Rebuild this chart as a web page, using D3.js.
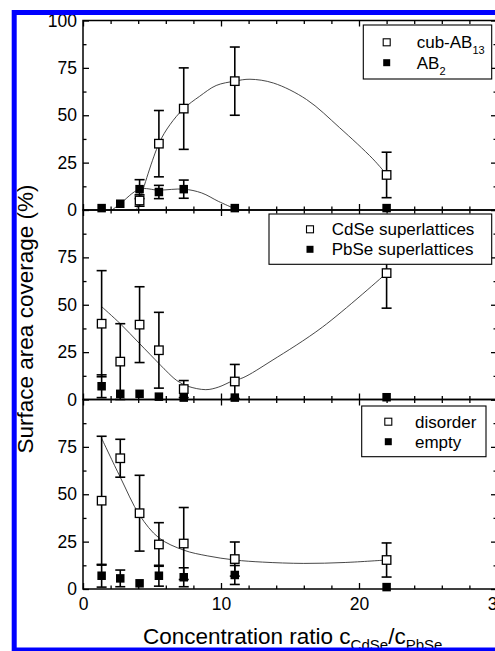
<!DOCTYPE html>
<html>
<head>
<meta charset="utf-8">
<script src="https://cdn.jsdelivr.net/npm/d3@7"></script>
<style>
  html, body { margin: 0; padding: 0; background: #fff; }
  svg { display: block; font-family: "Liberation Sans", Arial, sans-serif; }
</style>
</head>
<body>
<svg id="chart" width="495" height="651"></svg>
<script>
// ---------------- data ----------------
const xs = [1.35, 2.7, 4.1, 5.5, 7.3, 11, 22];

// top panel
const cubAB13    = [null, null, 5, 35, 53.5, 68, 18.5];
const cubAB13Err = [0, 0, 3, 17.5, 21.5, 18, 12];
const ab2        = [1, 3.3, 11, 9.5, 11, 1, 1];
const ab2Err     = [0, 0, 5, 3.5, 4.8, 0, 0];

// middle panel
const cdse       = [40, 20, 39.5, 26, 5.5, 9.5, 66.7];
const cdseErr    = [28, 20, 20, 20, 4.5, 9, 18.5];
const pbse       = [7, 3, 3, 1.5, 1, 1, 1.2];
const pbseErr    = [6, 0, 0, 0, 0, 0, 0];

// bottom panel
const disorder    = [46.6, 69, 40, 23.5, 24, 15.8, 15.3];
const disorderErr = [34, 10, 20, 11.5, 19, 9, 9];
const empty       = [7, 5.6, 3, 7, 6.2, 7.4, 1];
const emptyErr    = [6, 4.4, 0, 5.5, 5, 5, 0];

// guide-to-the-eye curves
const cubFitX = [3.9, 4.1, 5.5, 6.3, 7.3, 8.45, 9.65, 11, 12.1, 13.8, 16.2, 18.6, 21, 22];
const cubFitY = [0.5, 5, 35, 45, 53.5, 60, 65.7, 68, 69, 67, 58.3, 43.4, 27, 18.7];
const ab2FitX = [2.1, 2.7, 4.1, 5.5, 7.3, 8.6, 9.8, 10.9];
const ab2FitY = [0, 3.3, 11, 10.5, 11, 9, 4.6, 1];
const cdseFitX = [1.35, 2.7, 4.1, 5.5, 6.0, 6.8, 7.6, 8.9, 9.8, 10.9, 11.6, 13.7, 17.35, 22];
const cdseFitY = [49, 40, 29.5, 19, 15.3, 10, 7, 5.2, 6.5, 10, 11.5, 20.6, 38.2, 66.7];
const disFitX = [1.35, 2.7, 4.1, 5.5, 7.3, 9, 11, 13, 16, 19, 22];
const disFitY = [79.5, 59, 39, 27, 20.5, 17.5, 15.3, 14.2, 13.5, 14, 15.3];

const xMajor = [0, 10, 20, 30];
const xMinor = [2, 4, 6, 8, 12, 14, 16, 18, 22, 24, 26, 28];
const yMajorTop = [0, 25, 50, 75, 100];
const yMajor = [0, 25, 50, 75];
const yMinor = [12.5, 37.5, 62.5, 87.5];

const panels = [
  { top: 20.5, bottom: 210, yTicks: yMajorTop,
    open: cubAB13, openErr: cubAB13Err, filled: ab2, filledErr: ab2Err,
    fits: [[cubFitX, cubFitY], [ab2FitX, ab2FitY]],
    legend: { x0: 363.3, y0: 25, x1: 491.7, y1: 79, mx: 386.7, tx: 416.7, r1: 42.3, r2: 62.7,
              l1: ["cub-AB", "13"], l2: ["AB", "2"] } },
  { top: 210, bottom: 399.5, yTicks: yMajor,
    open: cdse, openErr: cdseErr, filled: pbse, filledErr: pbseErr,
    fits: [[cdseFitX, cdseFitY]],
    legend: { x0: 269, y0: 214, x1: 491.7, y1: 264.3, mx: 310, tx: 331.7, r1: 229.3, r2: 249.3,
              l1: ["CdSe superlattices", ""], l2: ["PbSe superlattices", ""] } },
  { top: 399.5, bottom: 589, yTicks: yMajor,
    open: disorder, openErr: disorderErr, filled: empty, filledErr: emptyErr,
    fits: [[disFitX, disFitY]],
    legend: { x0: 361.7, y0: 406, x1: 486, y1: 456.7, mx: 388.3, tx: 415, r1: 421.7, r2: 441.7,
              l1: ["disorder", ""], l2: ["empty", ""] } }
];

// ---------------- drawing ----------------
const svg = d3.select("#chart");
const x = d3.scaleLinear().domain([0, 30]).range([83, 497]);
const tickFont = 17.5;

panels.forEach((p, pi) => {
  const y = d3.scaleLinear().domain([0, 100]).range([p.bottom, p.top]);
  const g = svg.append("g");

  // fit curves
  p.fits.forEach(([fx, fy]) => {
    const pts = fx.map((v, i) => [v, fy[i]]);
    g.append("path")
      .attr("d", d3.line().x(d => x(d[0])).y(d => y(d[1])).curve(d3.curveCatmullRom.alpha(0.5))(pts))
      .attr("fill", "none").attr("stroke", "#333").attr("stroke-width", 0.9);
  });

  // error bars
  const drawErr = (vals, errs) => {
    xs.forEach((xv, i) => {
      const v = vals[i], e = errs[i];
      if (v == null || !e) return;
      const eb = g.append("g").attr("stroke", "#000").attr("stroke-width", 1.6);
      const lo = Math.max(0, v - e), hi = v + e;
      eb.append("line").attr("x1", x(xv)).attr("x2", x(xv)).attr("y1", y(lo)).attr("y2", y(hi));
      eb.append("line").attr("x1", x(xv) - 5).attr("x2", x(xv) + 5).attr("y1", y(hi)).attr("y2", y(hi));
      eb.append("line").attr("x1", x(xv) - 5).attr("x2", x(xv) + 5).attr("y1", y(lo)).attr("y2", y(lo));
    });
  };
  drawErr(p.open, p.openErr);
  drawErr(p.filled, p.filledErr);

  const ms = 8.5;
  xs.forEach((xv, i) => {
    const v = p.open[i];
    if (v == null) return;
    g.append("rect").attr("x", x(xv) - ms / 2).attr("y", y(v) - ms / 2)
      .attr("width", ms).attr("height", ms)
      .attr("fill", "#fff").attr("stroke", "#000").attr("stroke-width", 1.3);
  });
  xs.forEach((xv, i) => {
    const v = p.filled[i];
    if (v == null) return;
    g.append("rect").attr("x", x(xv) - ms / 2).attr("y", y(v) - ms / 2)
      .attr("width", ms).attr("height", ms).attr("fill", "#000");
  });

  // axes (ticks inward)
  const axG = svg.append("g").attr("font-size", tickFont);
  const styleAxis = sel => { sel.select(".domain").remove(); sel.selectAll("line").attr("stroke", "#000").attr("stroke-width", 1.3); sel.selectAll("text").attr("font-family", "Liberation Sans, Arial, sans-serif").attr("fill", "#000").attr("font-size", tickFont); };

  axG.append("g").attr("transform", `translate(${x(0)},0)`)
    .call(d3.axisLeft(y).tickValues(p.yTicks).tickSizeInner(-6).tickSizeOuter(0).tickPadding(6).tickFormat(d3.format("d")))
    .call(styleAxis);
  axG.append("g").attr("transform", `translate(${x(0)},0)`)
    .call(d3.axisLeft(y).tickValues(yMinor).tickSizeInner(-3.5).tickSizeOuter(0).tickFormat(""))
    .call(styleAxis);
  axG.append("g").attr("transform", `translate(${x(30)},0)`)
    .call(d3.axisRight(y).tickValues([0, 25, 50, 75, 100]).tickSizeInner(-6).tickSizeOuter(0).tickFormat(""))
    .call(styleAxis);
  axG.append("g").attr("transform", `translate(${x(30)},0)`)
    .call(d3.axisRight(y).tickValues(yMinor).tickSizeInner(-3.5).tickSizeOuter(0).tickFormat(""))
    .call(styleAxis);

  const isLast = pi === panels.length - 1;
  axG.append("g").attr("transform", `translate(0,${p.bottom})`)
    .call(d3.axisBottom(x).tickValues(xMajor).tickSizeInner(-6).tickSizeOuter(0).tickPadding(9)
      .tickFormat(isLast ? d3.format("d") : ""))
    .call(styleAxis);
  axG.append("g").attr("transform", `translate(0,${p.bottom})`)
    .call(d3.axisBottom(x).tickValues(xMinor).tickSizeInner(-3.5).tickSizeOuter(0).tickFormat(""))
    .call(styleAxis);
  axG.append("g").attr("transform", `translate(0,${p.top})`)
    .call(d3.axisTop(x).tickValues(xMajor).tickSizeInner(-6).tickSizeOuter(0).tickFormat(""))
    .call(styleAxis);
  axG.append("g").attr("transform", `translate(0,${p.top})`)
    .call(d3.axisTop(x).tickValues(xMinor).tickSizeInner(-3.5).tickSizeOuter(0).tickFormat(""))
    .call(styleAxis);

  // frame
  svg.append("rect").attr("x", x(0)).attr("y", p.top)
    .attr("width", x(30) - x(0)).attr("height", p.bottom - p.top)
    .attr("fill", "none").attr("stroke", "#000").attr("stroke-width", 1.5);

  // legend
  const L = p.legend;
  const lg = svg.append("g");
  lg.append("rect").attr("x", L.x0).attr("y", L.y0).attr("width", L.x1 - L.x0).attr("height", L.y1 - L.y0)
    .attr("fill", "#fff").attr("stroke", "#000").attr("stroke-width", 1.1);
  const lm = 7;
  lg.append("rect").attr("x", L.mx - lm / 2).attr("y", L.r1 - lm / 2).attr("width", lm).attr("height", lm)
    .attr("fill", "#fff").attr("stroke", "#000").attr("stroke-width", 1.1);
  lg.append("rect").attr("x", L.mx - lm / 2).attr("y", L.r2 - lm / 2).attr("width", lm).attr("height", lm)
    .attr("fill", "#000");
  [[L.l1, L.r1], [L.l2, L.r2]].forEach(([lab, ry]) => {
    const t = lg.append("text").attr("x", L.tx).attr("y", ry + 6).attr("font-size", 17).attr("fill", "#000");
    t.append("tspan").text(lab[0]);
    if (lab[1]) t.append("tspan").attr("font-size", 11).attr("dy", 6).text(lab[1]);
  });
});

// axis titles
svg.append("text")
  .attr("transform", "translate(33,319) rotate(-90)")
  .attr("text-anchor", "middle").attr("font-size", 22.5).attr("fill", "#000")
  .text("Surface area coverage (%)");

const xt = svg.append("text").attr("x", 143).attr("y", 644).attr("font-size", 22.5).attr("fill", "#000");
xt.append("tspan").text("Concentration ratio c");
xt.append("tspan").attr("font-size", 15).attr("dy", 6).text("CdSe");
xt.append("tspan").attr("dy", -6).text("/c");
xt.append("tspan").attr("font-size", 15).attr("dy", 6).text("PbSe");

// blue frame
svg.append("rect").attr("x", 14.2).attr("y", 12.5).attr("width", 700).attr("height", 637.5)
  .attr("fill", "none").attr("stroke", "#0000ff").attr("stroke-width", 5);
</script>
</body>
</html>
